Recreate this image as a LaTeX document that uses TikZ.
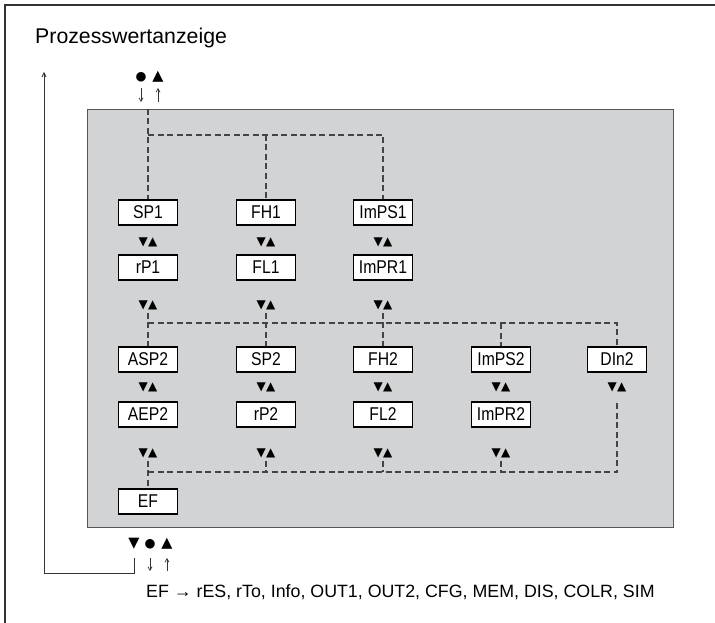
\documentclass[tikz,border=0pt]{standalone}
\usepackage{fontspec}
\setmainfont{Liberation Sans}
\newfontfamily\condfont[FakeStretch=0.85]{Liberation Sans}
\newfontfamily\symfont{DejaVu Sans}
\usetikzlibrary{arrows.meta}
\definecolor{panel}{HTML}{D1D3D4}
\definecolor{dashc}{HTML}{444444}
\definecolor{framec}{HTML}{333333}
\definecolor{panelline}{HTML}{555555}
\begin{document}
\begin{tikzpicture}[x=1pt,y=-1pt,
  param/.style={draw=black, line width=1.5pt, fill=white, minimum width=59pt,
    minimum height=25pt, inner sep=0pt, font=\condfont\fontsize{18.5}{18.5}\selectfont},
  navpair/.style={font=\symfont\fontsize{12}{12}\selectfont, inner sep=0pt},
  navsym/.style={font=\symfont\fontsize{12.5}{12.5}\selectfont, inner sep=0pt},
  navtri/.style={font=\symfont\fontsize{14.5}{14.5}\selectfont, inner sep=0pt},
  link/.style={draw=dashc, line width=1.1pt, dash pattern=on 6pt off 3.5pt},
  retline/.style={draw=framec, line width=0.8pt},
  keyarrow/.style={draw=framec, line width=0.7pt, -{Straight Barb[length=3.5pt,width=4pt]}}
]
\useasboundingbox (0,0) rectangle (715,623);
% frame (top and left)
\draw[framec, line width=1.6pt] (715,5) -- (5,5) -- (5,623);
% title
\node[anchor=west, inner sep=0pt, font=\fontsize{21.3}{21.3}\selectfont] (title) at (35,38) {Prozesswertanzeige};
% panel
\node[draw=panelline, line width=1pt, fill=panel, minimum width=586pt, minimum height=418pt,
  inner sep=0pt, anchor=north west] (panel) at (87,109) {};

% top keys
\node[navsym] (kdot) at (141,77) {●};
\node[navtri] (kup) at (158,77) {▲};
\coordinate (kdA) at (141,88); \coordinate (kdB) at (141,102);
\coordinate (kuA) at (158,102); \coordinate (kuB) at (158,88);
\draw[keyarrow] (kdA) -- (kdB);
\draw[keyarrow] (kuA) -- (kuB);

% parameter boxes
\node[param] (SP1)   at (148,212.5) {SP1};
\node[param] (FH1)   at (266,212.5) {FH1};
\node[param] (ImPS1) at (383,212.5) {ImPS1};
\node[param] (rP1)   at (148,267.5) {rP1};
\node[param] (FL1)   at (266,267.5) {FL1};
\node[param] (ImPR1) at (383,267.5) {ImPR1};
\node[param] (ASP2)  at (148,359.5) {ASP2};
\node[param] (SP2)   at (266,359.5) {SP2};
\node[param] (FH2)   at (383,359.5) {FH2};
\node[param] (ImPS2) at (501,359.5) {ImPS2};
\node[param] (DIn2)  at (617,359.5) {DIn2};
\node[param] (AEP2)  at (148,414.5) {AEP2};
\node[param] (rP2)   at (266,414.5) {rP2};
\node[param] (FL2)   at (383,414.5) {FL2};
\node[param] (ImPR2) at (501,414.5) {ImPR2};
\node[param] (EF)    at (148,501.5) {EF};

% up/down pairs
\foreach \n/\x/\y in {a1/148/242, a2/266/242, a3/383/242,
                      b1/148/305, b2/266/305, b3/383/305,
                      c1/148/387, c2/266/387, c3/383/387, c4/501/387, c5/617/387,
                      d1/148/453, d2/266/453, d3/383/453, d4/501/453}
  \node[navpair] (\n) at (\x,\y) {▼\hspace{0.3pt}▲};

% top dashed tree
\coordinate (gtop) at (148,109);
\coordinate (j1) at (148,135);
\draw[link] (gtop) -- (SP1.north);
\draw[link] (j1) -- (j1 -| ImPS1.north) -- (ImPS1.north);
\draw[link] (j1 -| FH1.north) -- (FH1.north);

% middle dashed tree
\coordinate (j2) at (148,323);
\draw[link] ([yshift=-3pt]b1.south) -- (ASP2.north);
\draw[link] ([yshift=-3pt]b2.south) -- (SP2.north);
\draw[link] ([yshift=-3pt]b3.south) -- (FH2.north);
\draw[link] (j2) -- (j2 -| DIn2.north) -- (DIn2.north);
\draw[link] (j2 -| ImPS2.north) -- (ImPS2.north);

% bottom dashed tree
\coordinate (j3) at (148,472);
\draw[link] ([yshift=-3pt]d1.south) -- (EF.north);
\draw[link] ([yshift=-3pt]d2.south) -- (j3 -| d2.south);
\draw[link] ([yshift=-3pt]d3.south) -- (j3 -| d3.south);
\draw[link] ([yshift=-3pt]d4.south) -- (j3 -| d4.south);
\draw[link] (j3) -- (j3 -| c5.south) -- ([yshift=-9pt]c5.south);

% bottom keys
\node[navtri] (bdown) at (134,544) {▼};
\node[navsym] (bdot)  at (150,544) {●};
\node[navtri] (bup)   at (167,544) {▲};
\coordinate (bdA) at (150,558); \coordinate (bdB) at (150,571);
\coordinate (buA) at (167,571); \coordinate (buB) at (167,558);
\draw[keyarrow] (bdA) -- (bdB);
\draw[keyarrow] (buA) -- (buB);

% return line
\coordinate (r0) at (134,558);
\coordinate (rc) at (44,573);
\coordinate (rtop) at (44,72);
\draw[retline, -{Straight Barb[length=4pt,width=4pt]}] (r0) |- (rc) -- (rtop);

% bottom text
\node[anchor=west, inner sep=0pt, font=\fontsize{17.8}{17.8}\selectfont] (eflist) at (146,592)
  {EF → rES, rTo, Info, OUT1, OUT2, CFG, MEM, DIS, COLR, SIM};
\end{tikzpicture}
\end{document}
